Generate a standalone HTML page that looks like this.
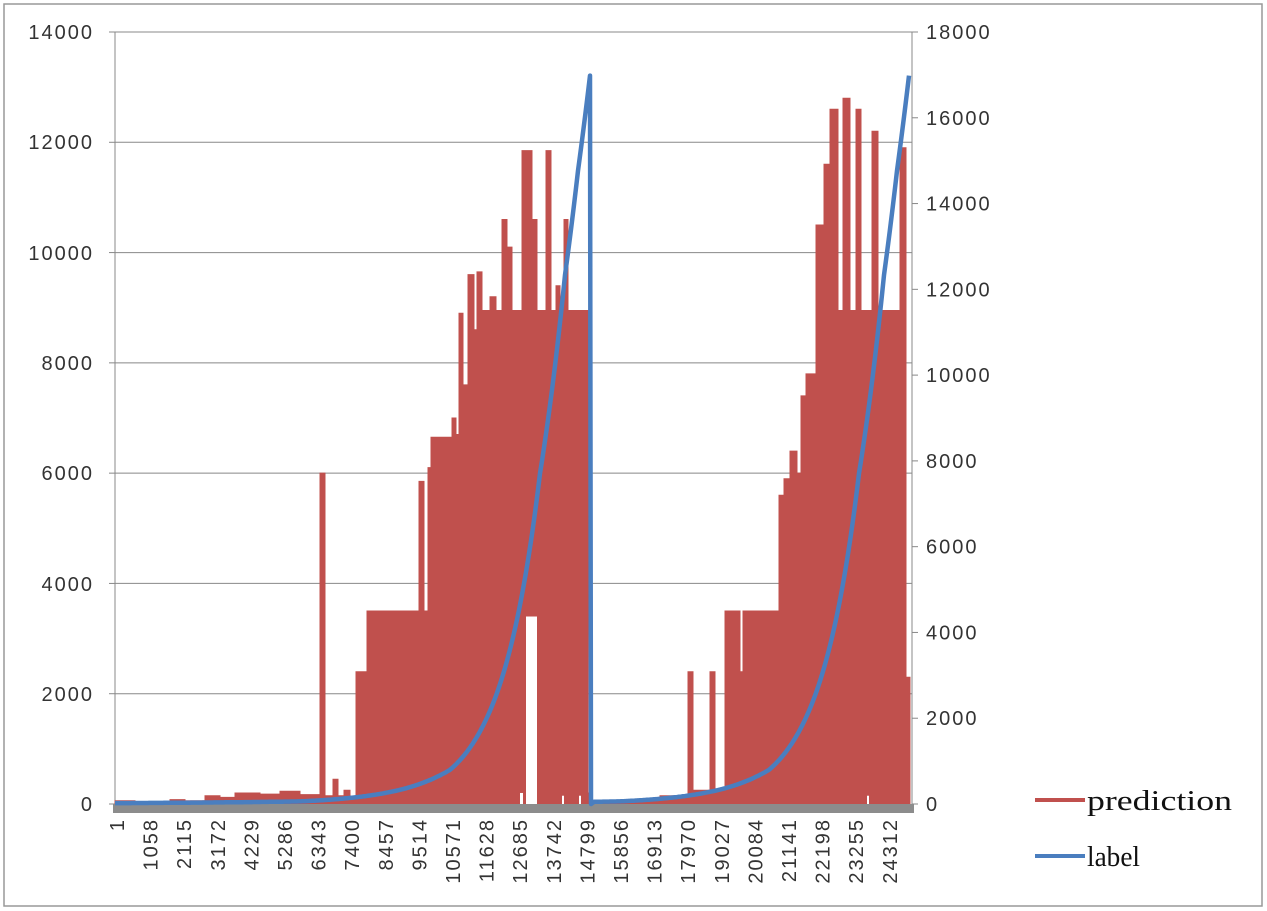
<!DOCTYPE html>
<html><head><meta charset="utf-8"><style>
html,body{margin:0;padding:0;background:#fff;}
svg{display:block;}
text{font-family:"Liberation Sans",sans-serif;font-size:20px;letter-spacing:2px;fill:#333;}
.lg{font-family:"Liberation Serif",serif;font-size:28px;letter-spacing:0;fill:#111;}
</style></head><body>
<svg id="s" width="1267" height="911" viewBox="0 0 1267 911" xmlns="http://www.w3.org/2000/svg">
<rect x="0" y="0" width="1267" height="911" fill="#fff"/>
<rect x="4" y="4" width="1258" height="902" fill="none" stroke="#999" stroke-width="1.5"/>
<g stroke="#888" stroke-width="1">
<line x1="115" x2="912" y1="32" y2="32"/>
<line x1="115" x2="912" y1="142.3" y2="142.3"/>
<line x1="115" x2="912" y1="252.6" y2="252.6"/>
<line x1="115" x2="912" y1="362.9" y2="362.9"/>
<line x1="115" x2="912" y1="473.1" y2="473.1"/>
<line x1="115" x2="912" y1="583.4" y2="583.4"/>
<line x1="115" x2="912" y1="693.7" y2="693.7"/>
<line x1="115" x2="115" y1="32" y2="804"/>
<line x1="912" x2="912" y1="32" y2="804"/>
</g>
<g id="ticks" stroke="#888" stroke-width="1"></g>
<path id="red" fill="#c0504d" stroke="#c0504d" stroke-width="1" d=""/>
<rect x="113" y="804" width="801" height="9" fill="#8c8c8c"/>
<path id="blue" fill="none" stroke="#4a7ebf" stroke-width="4.5" stroke-linejoin="round" d=""/>
<g text-anchor="end">
<text x="94" y="39">14000</text><text x="94" y="149">12000</text><text x="94" y="260">10000</text>
<text x="94" y="370">8000</text><text x="94" y="480">6000</text><text x="94" y="591">4000</text>
<text x="94" y="701">2000</text><text x="94" y="811">0</text>
</g>
<g id="rl"></g>
<g id="xl"></g>
<line x1="1035" x2="1085" y1="800" y2="800" stroke="#c0504d" stroke-width="4"/>
<text class="lg" x="1087" y="810" textLength="145" lengthAdjust="spacingAndGlyphs">prediction</text>
<line x1="1035" x2="1085" y1="856" y2="856" stroke="#4a7ebf" stroke-width="4"/>
<text class="lg" x="1087" y="866" textLength="53" lengthAdjust="spacingAndGlyphs">label</text>
</svg>
<script>
var NS="http://www.w3.org/2000/svg";
function el(t,a,txt){var e=document.createElementNS(NS,t);for(var k in a)e.setAttribute(k,a[k]);if(txt!=null)e.textContent=txt;return e;}
function yl(v){return 804-v/14000*772;}
function yr(v){return 804-v/18000*772;}
var rl=document.getElementById('rl'),tk=document.getElementById('ticks');
for(var i=0;i<=9;i++){var y=yr(i*2000);rl.appendChild(el('text',{x:926,y:y+7},String(i*2000)));tk.appendChild(el('line',{x1:912,x2:918,y1:y,y2:y}));}
for(var i=0;i<=7;i++){var y=yl(i*2000);tk.appendChild(el('line',{x1:109,x2:115,y1:y,y2:y}));}
var labs=["1","1058","2115","3172","4229","5286","6343","7400","8457","9514","10571","11628","12685","13742","14799","15856","16913","17970","19027","20084","21141","22198","23255","24312"];
var xl=document.getElementById('xl');
labs.forEach(function(l,i){var x=117+i*33.6+7;xl.appendChild(el('text',{x:0,y:0,transform:'translate('+x+',818) rotate(-90)','text-anchor':'end'},l));});
var seg=[[115,135,60],[135,150,20],[150,170,40],[170,185,80],[185,205,60],[205,220,150],[220,235,120],[235,260,200],[260,280,180],[280,300,230],[300,320,170],[320,325,6000],[325,333,150],[333,338,450],[338,344,150],[344,350,250],[350,356,100],
[356,367,2400],[367,419,3500],[419,424,5850],[424,428,3500],[428,431,6100],[431,452,6650],[452,456,7000],[456,459,6700],[459,463,8900],[463,468,7600],[468,474,9600],[474,477,8600],[477,482,9650],[482,490,8950],[490,496,9200],[496,502,8950],[502,507,10600],[507,512,10100],[512,522,8950],[522,526,11850],[526,532,11850],[532,537,10600],[537,546,8950],[546,551,11850],[551,556,8950],[556,560,9400],[560,564,8950],[564,568,10600],[568,588,8950],[588,592,200],
[592,620,60],[620,640,30],[640,660,80],[660,688,150],[688,693,2400],[693,710,250],[710,715,2400],[715,725,250],[725,740,3500],[740,743,2400],[743,779,3500],[779,784,5600],[784,790,5900],[790,797,6400],[797,801,6000],[801,806,7400],[806,816,7800],[816,824,10500],[824,830,11600],[830,833,12600],[833,838,12600],[838,843,8950],[843,850,12800],[850,856,8950],[856,861,12600],[861,872,8950],[872,878,12200],[878,893,8950],[893,900,8950],[900,906,11900],[906,910,2300]];
var d="M115,804";
seg.forEach(function(s){var y=yl(s[2]).toFixed(1);d+=" L"+s[0]+","+y+" L"+s[1]+","+y;});
d+=" L910,804 Z";
var red=document.getElementById('red');red.setAttribute('d',d);
[[526,537,3400],[520,523,200],[562,564,150],[579,581,150],[867,869,150]].forEach(function(n){
 var r=el('rect',{x:n[0],y:yl(n[2]),width:n[1]-n[0],height:804-yl(n[2]),fill:'#fff'});red.parentNode.insertBefore(r,red.nextSibling);});
var P=[[115,3.0],[300,4.1],[400,5.8],[450,6.68],[497,7.86],[540,8.95],[565,9.42],[578,9.6],[590,9.74]];
function lv(x){for(var i=0;i<P.length-1;i++){if(x<=P[i+1][0]){var t=(x-P[i][0])/(P[i+1][0]-P[i][0]);return P[i][1]+t*(P[i+1][1]-P[i][1]);}}return P[P.length-1][1];}
var b="";
function cyc(x0,x1,off,first){for(var x=x0;x<=x1;x+=1){var v=Math.exp(lv(x-off));b+=(first&&x==x0?"M":"L")+x+","+yr(v).toFixed(1)+" ";}}
cyc(115,590,0,true);b+="L591,804 ";cyc(594,909,319,false);
document.getElementById('blue').setAttribute('d',b);
</script>
</body></html>
